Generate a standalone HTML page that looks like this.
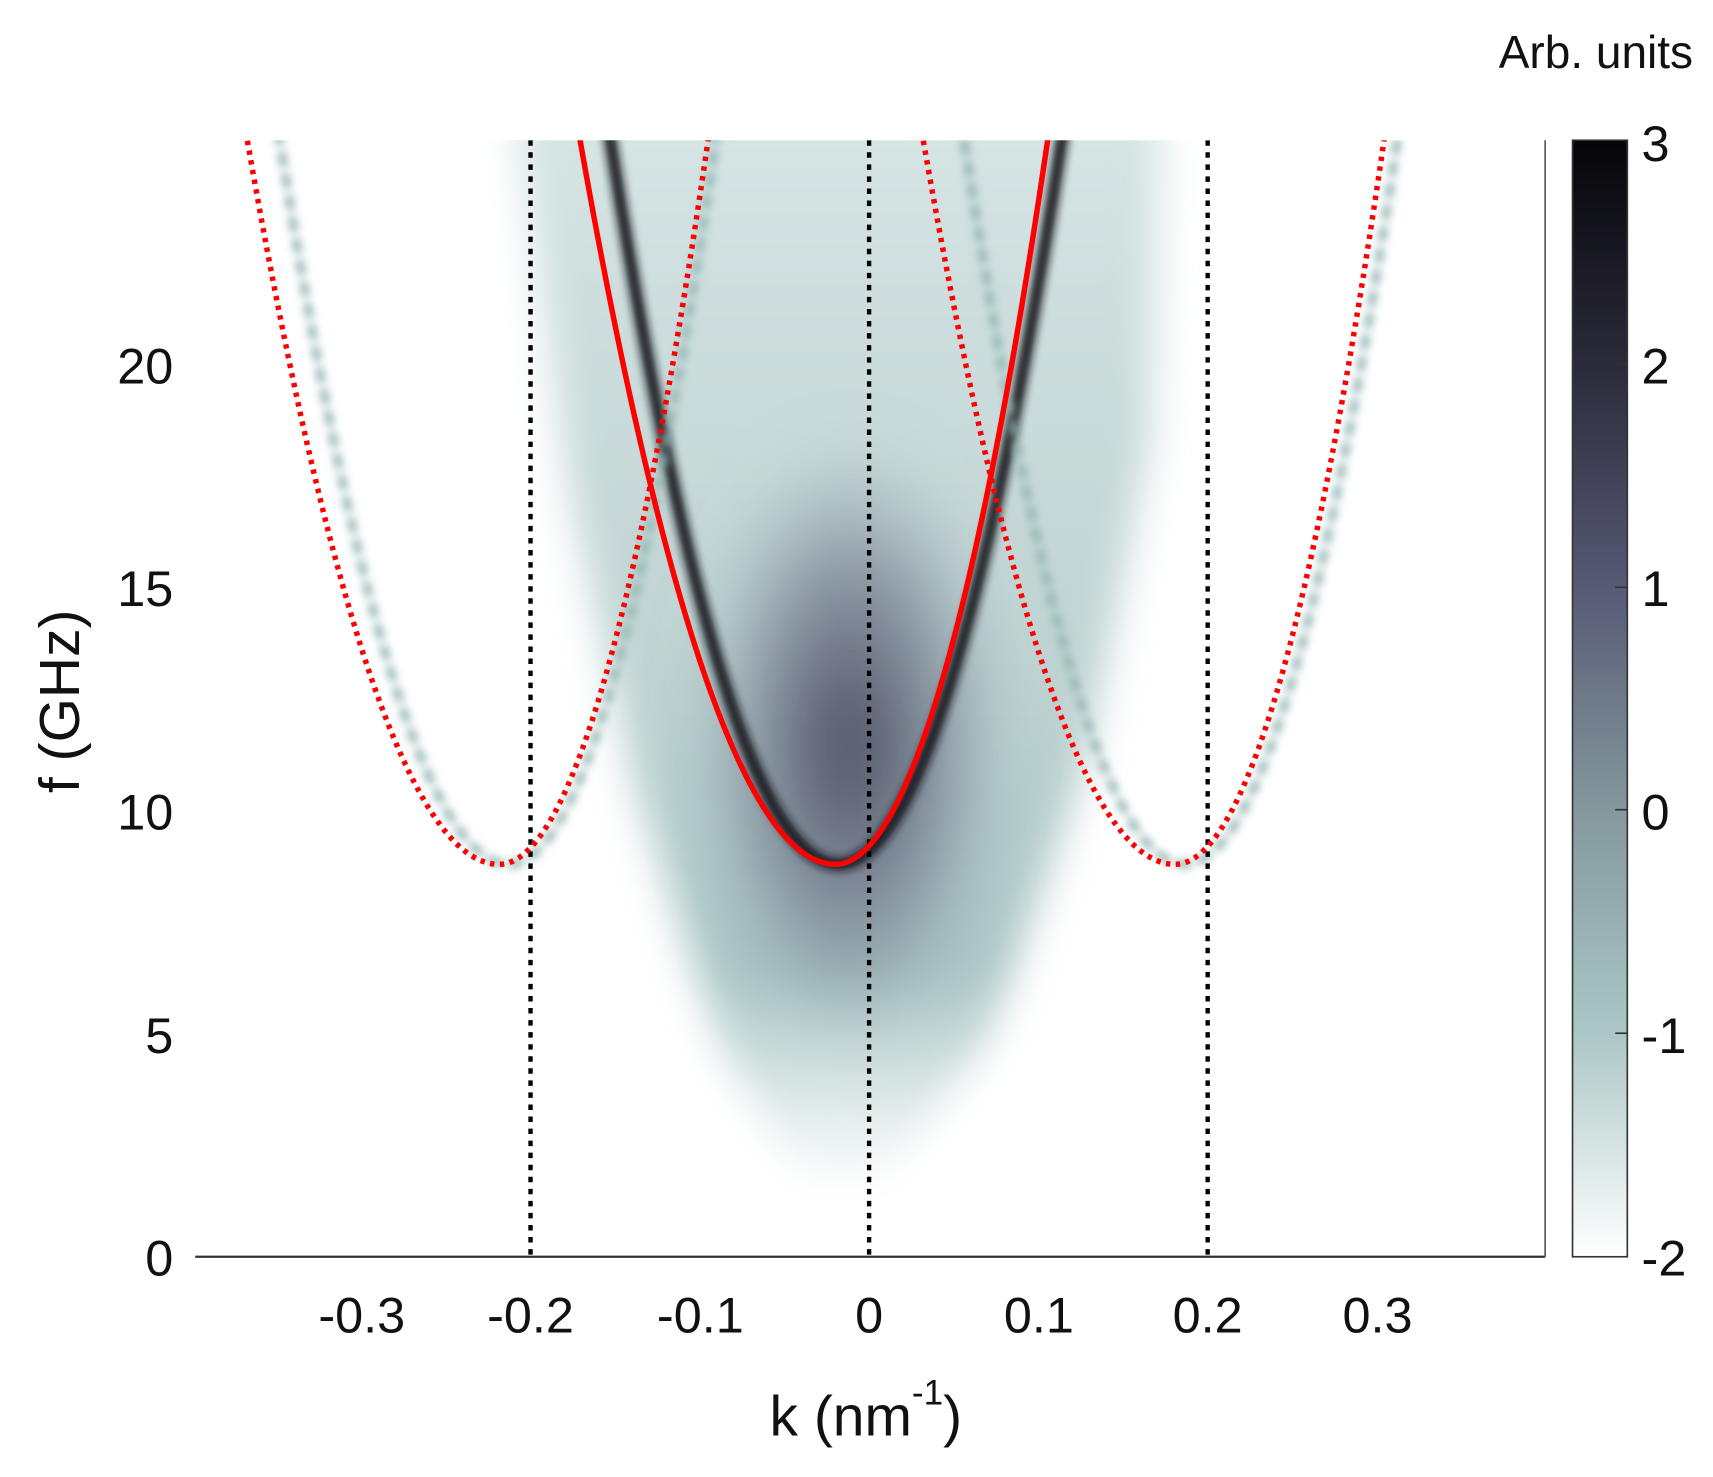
<!DOCTYPE html>
<html><head><meta charset="utf-8"><style>html,body{margin:0;padding:0;background:#fff}svg{display:block}</style></head>
<body>
<svg id="s" width="1713" height="1477" viewBox="0 0 1563 1348" xmlns="http://www.w3.org/2000/svg">
<defs>
<linearGradient id="cb" x1="0" y1="0" x2="0" y2="1">
<stop offset="0" stop-color="#050508"/><stop offset="0.2" stop-color="#2b2a3a"/><stop offset="0.4" stop-color="#575a75"/><stop offset="0.6" stop-color="#84989d"/><stop offset="0.8" stop-color="#abc7c5"/><stop offset="1" stop-color="#ffffff"/>
</linearGradient>
<linearGradient id="wedge" x1="0" y1="0" x2="0" y2="1">
<stop offset="0" stop-color="#d6e4e4"/><stop offset="0.55" stop-color="#bdd2d1"/><stop offset="0.8" stop-color="#acc7c6"/><stop offset="1" stop-color="#ffffff"/>
</linearGradient>
<radialGradient id="core" cx="0.5" cy="0.5" r="0.5">
<stop offset="0" stop-color="#3d3b52" stop-opacity="0.95"/><stop offset="0.6" stop-color="#6a6f85" stop-opacity="0.6"/><stop offset="1" stop-color="#8aa0a4" stop-opacity="0"/>
</radialGradient>
<filter id="b1" x="-20%" y="-20%" width="140%" height="140%"><feGaussianBlur stdDeviation="18"/></filter>
<filter id="b2"><feGaussianBlur stdDeviation="4"/></filter>
<filter id="b3" x="-50%" y="-50%" width="200%" height="200%"><feGaussianBlur stdDeviation="30"/></filter>
<clipPath id="pc"><rect x="178" y="128" width="1232" height="1019"/></clipPath>
</defs>
<g clip-path="url(#pc)">
<path id="wedgeP" fill="url(#wedge)" filter="url(#b1)"/>
<ellipse cx="775" cy="680" rx="140" ry="280" fill="url(#core)" filter="url(#b3)"/>
<path id="band" fill="none" stroke="#15141d" stroke-width="11" filter="url(#b2)"/>
<path id="lt1" fill="none" stroke="#8fb3b1" stroke-width="7" stroke-dasharray="14 6" filter="url(#b2)"/>
<path id="lt2" fill="none" stroke="#8fb3b1" stroke-width="7" stroke-dasharray="14 6" filter="url(#b2)"/>
<g stroke="#000" stroke-width="4" stroke-dasharray="5 6">
<line x1="484" y1="128" x2="484" y2="1147"/><line x1="793" y1="128" x2="793" y2="1147"/><line x1="1102" y1="128" x2="1102" y2="1147"/>
</g>
<path id="red0" fill="none" stroke="#f00" stroke-width="5"/>
<path id="red1" fill="none" stroke="#f00" stroke-width="5" stroke-dasharray="4 5"/>
<path id="red2" fill="none" stroke="#f00" stroke-width="5" stroke-dasharray="4 5"/>
</g>
<line x1="178" y1="1147" x2="1410" y2="1147" stroke="#333" stroke-width="2"/>
<line x1="1410" y1="128" x2="1410" y2="1147" stroke="#555" stroke-width="1.5"/>
<rect x="1435" y="128" width="50" height="1019" fill="url(#cb)" stroke="#333" stroke-width="1.5"/>
<g stroke="#333" stroke-width="1.5">
<line x1="1474" y1="332" x2="1485" y2="332"/><line x1="1474" y1="536" x2="1485" y2="536"/><line x1="1474" y1="739" x2="1485" y2="739"/><line x1="1474" y1="943" x2="1485" y2="943"/>
</g>
<g font-family="Liberation Sans, sans-serif" font-size="46" fill="#111">
<g text-anchor="end"><text x="158" y="1164">0</text><text x="158" y="961">5</text><text x="158" y="757">10</text><text x="158" y="553">15</text><text x="158" y="350">20</text></g>
<g text-anchor="middle"><text x="330" y="1216">-0.3</text><text x="484" y="1216">-0.2</text><text x="639" y="1216">-0.1</text><text x="793" y="1216">0</text><text x="948" y="1216">0.1</text><text x="1102" y="1216">0.2</text><text x="1257" y="1216">0.3</text></g>
<g text-anchor="start"><text x="1498" y="147">3</text><text x="1498" y="350">2</text><text x="1498" y="553">1</text><text x="1498" y="757">0</text><text x="1498" y="961">-1</text><text x="1498" y="1164">-2</text></g>
<text x="790" y="1310" text-anchor="middle" font-size="52">k (nm<tspan font-size="32" dy="-28">-1</tspan><tspan dy="28">)</tspan></text>
<text transform="translate(72,640) rotate(-90)" text-anchor="middle" font-size="52">f (GHz)</text>
<text x="1545" y="62" text-anchor="end" font-size="42">Arb. units</text>
</g>
<script>
const X=k=>793+k*1550, Y=f=>1147-f*40.7;
function par(k0,aL,aR,dx){let p=[];for(let k=k0-0.2;k<=k0+0.2;k+=0.002){const d=k-k0;const f=8.8+(d<0?aL:aR)*d*d;if(f>26)continue;p.push((p.length?'L':'M')+(X(k)+(dx||0)).toFixed(1)+','+Y(f).toFixed(1));}return p.join(' ');}
document.getElementById('red0').setAttribute('d',par(-0.02,720,1037));
document.getElementById('band').setAttribute('d',par(-0.018,900,940,0));
document.getElementById('red1').setAttribute('d',par(-0.218,740,1070));
document.getElementById('red2').setAttribute('d',par(0.18,740,1070));
document.getElementById('lt1').setAttribute('d',par(-0.212,890,1100,0));
document.getElementById('lt2').setAttribute('d',par(0.186,960,1040,0));
document.getElementById('wedgeP').setAttribute('d','M470,100 L1060,100 L1050,400 L990,700 L900,950 L800,1080 L740,1085 L660,960 L580,720 L520,450 Z');
</script>
</svg>
</body></html>
